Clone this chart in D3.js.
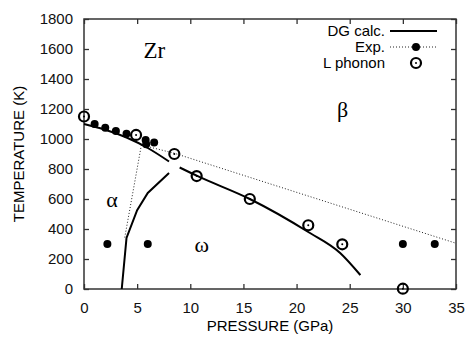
<!DOCTYPE html>
<html>
<head>
<meta charset="utf-8">
<script src="https://cdn.jsdelivr.net/npm/d3@7"></script>
<style>
  body { margin: 0; background: #fff; }
  svg { display: block; font-family: "Liberation Sans", Arial, Helvetica, sans-serif; }
</style>
</head>
<body>
<svg id="chart" width="465" height="337"></svg>
<script>
// DG calc. phase boundaries (pressure GPa, temperature K)
var dgBetaAlpha = [[0, 1100], [2, 1062], [4, 1010], [6, 940], [8, 850]];
var dgAlphaOmega = [[3.55, 0], [4.0, 340], [5.0, 525], [6.0, 640], [8.0, 773]];
var dgBetaOmega = [[9.0, 810], [10.7, 752], [15.6, 600], [21.1, 380], [24.1, 240], [26.0, 93]];

// Exp. boundaries (dotted) and measured points
var expBetaOmega = [[5.4, 960], [8.5, 905], [35, 305]];
var expAlphaOmega = [[5.4, 960], [3.8, 330]];
var expPoints = [[1.0, 1100], [2.0, 1075], [3.0, 1053], [4.0, 1035], [5.8, 993], [5.85, 965], [6.6, 977],
                 [2.2, 300], [6.0, 300], [30.0, 300], [33.0, 300]];

// L phonon
var phononPoints = [[0, 1150], [4.9, 1027], [8.5, 900], [10.6, 753], [15.6, 600], [21.1, 425], [24.3, 298], [30.0, 2]];

var xTicks = [0, 5, 10, 15, 20, 25, 30, 35];
var yTicks = [0, 200, 400, 600, 800, 1000, 1200, 1400, 1600, 1800];

var legendLabels = ["DG calc.", "Exp.", "L phonon"];

var svg = d3.select("#chart"),
    margin = { top: 19, right: 9, bottom: 48, left: 84 },
    width = 465 - margin.left - margin.right,
    height = 337 - margin.top - margin.bottom;

var x = d3.scaleLinear().domain([0, 35]).range([margin.left, margin.left + width]);
var y = d3.scaleLinear().domain([0, 1800]).range([margin.top + height, margin.top]);

var axisColor = "#333";
var fmt = d3.format("d");

// ticks (inward, all four sides)
function tickGroup(axis) {
    return svg.append("g").call(axis)
        .call(function (g) { g.select(".domain").remove(); })
        .call(function (g) { g.selectAll("line").attr("stroke", axisColor).attr("stroke-width", 1.3); });
}
var bottomAx = tickGroup(d3.axisBottom(x).tickValues(xTicks).tickFormat(fmt).tickSizeInner(-5).tickSizeOuter(0).tickPadding(13))
    .attr("transform", "translate(0," + (margin.top + height) + ")");
bottomAx.selectAll("text").style("font-size", "15px").attr("fill", "#111");
tickGroup(d3.axisTop(x).tickValues(xTicks).tickSizeInner(-5).tickSizeOuter(0).tickFormat(""))
    .attr("transform", "translate(0," + margin.top + ")");
var leftAx = tickGroup(d3.axisLeft(y).tickValues(yTicks).tickFormat(fmt).tickSizeInner(-5).tickSizeOuter(0).tickPadding(11))
    .attr("transform", "translate(" + margin.left + ",0)");
leftAx.selectAll("text").style("font-size", "15px").attr("fill", "#111");
tickGroup(d3.axisRight(y).tickValues(yTicks).tickSizeInner(-5).tickSizeOuter(0).tickFormat(""))
    .attr("transform", "translate(" + (margin.left + width) + ",0)");
svg.selectAll("g").attr("font-family", null);

// frame
svg.append("rect")
    .attr("x", margin.left).attr("y", margin.top)
    .attr("width", width).attr("height", height)
    .attr("fill", "none").attr("stroke", axisColor).attr("stroke-width", 1.5);

// axis titles
svg.append("text")
    .attr("x", margin.left + width / 2).attr("y", 331)
    .attr("text-anchor", "middle").style("font-size", "15px")
    .text("PRESSURE (GPa)");
svg.append("text")
    .attr("transform", "translate(24," + (margin.top + height / 2) + ") rotate(-90)")
    .attr("text-anchor", "middle").style("font-size", "15px")
    .text("TEMPERATURE (K)");

var line = d3.line().x(function (d) { return x(d[0]); }).y(function (d) { return y(d[1]); });
var curve = d3.line().curve(d3.curveMonotoneX).x(function (d) { return x(d[0]); }).y(function (d) { return y(d[1]); });

// Exp. dotted boundaries
[expBetaOmega, expAlphaOmega].forEach(function (pts) {
    svg.append("path").attr("d", line(pts))
        .attr("fill", "none").attr("stroke", "#222").attr("stroke-width", 1)
        .attr("stroke-dasharray", "1,2");
});

// DG calc. solid lines
svg.append("path").attr("d", curve(dgBetaAlpha))
    .attr("fill", "none").attr("stroke", "#000").attr("stroke-width", 2);
svg.append("path").attr("d", line(dgAlphaOmega))
    .attr("fill", "none").attr("stroke", "#000").attr("stroke-width", 2);
svg.append("path").attr("d", curve(dgBetaOmega))
    .attr("fill", "none").attr("stroke", "#000").attr("stroke-width", 2);

// Exp. points
svg.selectAll(".exp").data(expPoints).enter().append("circle")
    .attr("class", "exp")
    .attr("cx", function (d) { return x(d[0]); })
    .attr("cy", function (d) { return y(d[1]); })
    .attr("r", 4).attr("fill", "#000");

// L phonon markers
function phonon(g, cx, cy) {
    g.append("circle").attr("cx", cx).attr("cy", cy).attr("r", 5)
        .attr("fill", "none").attr("stroke", "#000").attr("stroke-width", 2.2);
    g.append("circle").attr("cx", cx).attr("cy", cy).attr("r", 1).attr("fill", "#000");
}
var pg = svg.append("g");
phononPoints.forEach(function (d) { phonon(pg, x(d[0]), y(d[1])); });

// phase labels
var serif = '"Liberation Serif", "Times New Roman", serif';
function phaseLabel(px, py, size, txt) {
    svg.append("text").attr("x", px).attr("y", py)
        .style("font-family", serif).style("font-size", size + "px").text(txt);
}
phaseLabel(x(5.6), 58, 23, "Zr");
phaseLabel(x(23.8), 117, 22, "β");
phaseLabel(x(2.1), 207, 22, "α");
phaseLabel(x(10.4), 252, 22, "ω");

// legend
var lx0 = 390, lx1 = 437, lxm = 416, textX = 385;
var rows = [31, 47, 63];
legendLabels.forEach(function (lab, i) {
    svg.append("text").attr("x", textX).attr("y", rows[i] + 5)
        .attr("text-anchor", "end").style("font-size", "15px").text(lab);
});
svg.append("line").attr("x1", lx0).attr("x2", lx1).attr("y1", rows[0]).attr("y2", rows[0])
    .attr("stroke", "#000").attr("stroke-width", 2);
svg.append("line").attr("x1", lx0).attr("x2", lx1).attr("y1", rows[1]).attr("y2", rows[1])
    .attr("stroke", "#222").attr("stroke-width", 1).attr("stroke-dasharray", "1,2");
svg.append("circle").attr("cx", lxm).attr("cy", rows[1]).attr("r", 4).attr("fill", "#000");
phonon(svg.append("g"), lxm, rows[2]);
</script>
</body>
</html>
